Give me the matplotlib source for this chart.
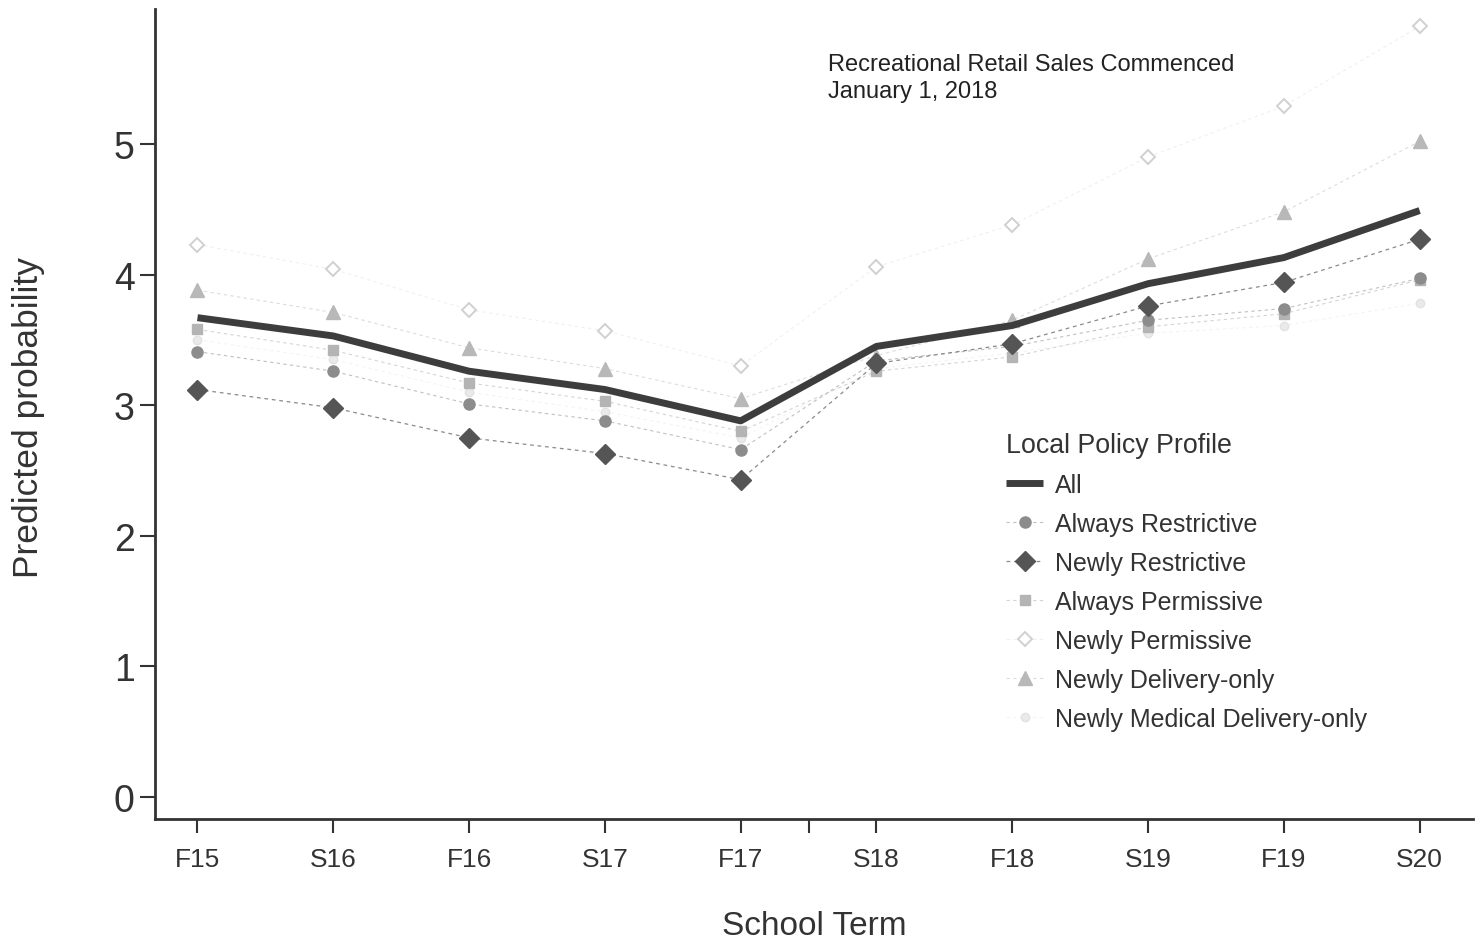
import matplotlib.pyplot as plt

plt.rcParams['font.family'] = ['Liberation Sans', 'DejaVu Sans']

# School terms and predicted probabilities
terms = ['F15', 'S16', 'F16', 'S17', 'F17', 'S18', 'F18', 'S19', 'F19', 'S20']

all_profiles = [3.67, 3.53, 3.26, 3.12, 2.88, 3.45, 3.61, 3.93, 4.13, 4.49]
always_restrictive = [3.41, 3.26, 3.01, 2.88, 2.66, 3.34, 3.45, 3.65, 3.74, 3.97]
newly_restrictive = [3.12, 2.98, 2.75, 2.63, 2.43, 3.32, 3.47, 3.76, 3.94, 4.27]
always_permissive = [3.58, 3.42, 3.17, 3.03, 2.80, 3.26, 3.37, 3.60, 3.70, 3.96]
newly_permissive = [4.23, 4.04, 3.73, 3.57, 3.30, 4.06, 4.38, 4.90, 5.29, 5.90]
newly_delivery = [3.88, 3.71, 3.44, 3.28, 3.05, 3.38, 3.65, 4.12, 4.48, 5.02]
newly_medical = [3.50, 3.35, 3.10, 2.95, 2.75, 3.28, 3.40, 3.55, 3.61, 3.78]

x = list(range(len(terms)))

fig = plt.figure(figsize=(14.8, 9.45), dpi=100)
ax = fig.add_axes([0.105, 0.132, 0.89, 0.857])

dash = (0, (3, 3))
ax.plot(x, newly_medical, marker='o', ms=6, color='#f4f4f4', mfc='#eaeaea',
        mec='#e2e2e2', lw=0.8, ls=dash, label='Newly Medical Delivery-only')
ax.plot(x, newly_permissive, marker='D', ms=7, color='#f0f0f0', mfc='white',
        mec='#d0d0d0', mew=1.4, lw=0.8, ls=dash, label='Newly Permissive')
ax.plot(x, newly_delivery, marker='^', ms=10, color='#dcdcdc', mfc='#b8b8b8',
        mec='#b8b8b8', lw=0.8, ls=dash, label='Newly Delivery-only')
ax.plot(x, always_permissive, marker='s', ms=7.5, color='#d4d4d4', mfc='#b4b4b4',
        mec='#b4b4b4', lw=0.8, ls=dash, label='Always Permissive')
ax.plot(x, always_restrictive, marker='o', ms=8, color='#c0c0c0', mfc='#8c8c8c',
        mec='#8c8c8c', lw=0.8, ls=dash, label='Always Restrictive')
ax.plot(x, newly_restrictive, marker='D', ms=10, color='#8a8a8a', mfc='#555555',
        mec='#555555', lw=0.9, ls=dash, label='Newly Restrictive')
ax.plot(x, all_profiles, color='#3d3d3d', lw=5, solid_capstyle='butt', label='All')

ax.set_xlim(-0.31, 9.39)
ax.set_ylim(-0.17, 6.03)
ax.set_xticks(x + [4.5])
ax.set_xticklabels(terms + [''], fontsize=19)
ax.set_yticks([0, 1, 2, 3, 4, 5])
ax.tick_params(axis='y', labelsize=27, length=11, width=1.5, pad=4, colors='#333333')
ax.tick_params(axis='x', length=10, width=1.5, pad=10, colors='#333333')

for side in ['top', 'right']:
    ax.spines[side].set_visible(False)
for side in ['left', 'bottom']:
    ax.spines[side].set_linewidth(2)
    ax.spines[side].set_color('#333333')

fig.text(0.019, 0.558, 'Predicted probability', fontsize=25.5, color='#333333',
         rotation=90, ha='center', va='center')
fig.text(0.55, 0.020, 'School Term', fontsize=24, color='#333333',
         ha='center', va='center')

ax.text(4.64, 5.70, 'Recreational Retail Sales Commenced\nJanuary 1, 2018',
        fontsize=17, color='#222222', va='top', linespacing=1.35)

handles, labels = ax.get_legend_handles_labels()
order = ['All', 'Always Restrictive', 'Newly Restrictive', 'Always Permissive',
         'Newly Permissive', 'Newly Delivery-only', 'Newly Medical Delivery-only']
hmap = dict(zip(labels, handles))
leg = ax.legend([hmap[k] for k in order], order, loc='upper left',
                bbox_to_anchor=(0.680, 0.542), bbox_transform=fig.transFigure,
                frameon=False, fontsize=18, title='Local Policy Profile',
                title_fontsize=19.3, handlelength=1.45, handletextpad=0.48,
                labelspacing=0.6, borderpad=0, borderaxespad=0,
                labelcolor='#333333')
leg.get_title().set_color('#333333')
leg._legend_box.align = 'left'

fig.savefig('out.png', dpi=100, facecolor='white')
